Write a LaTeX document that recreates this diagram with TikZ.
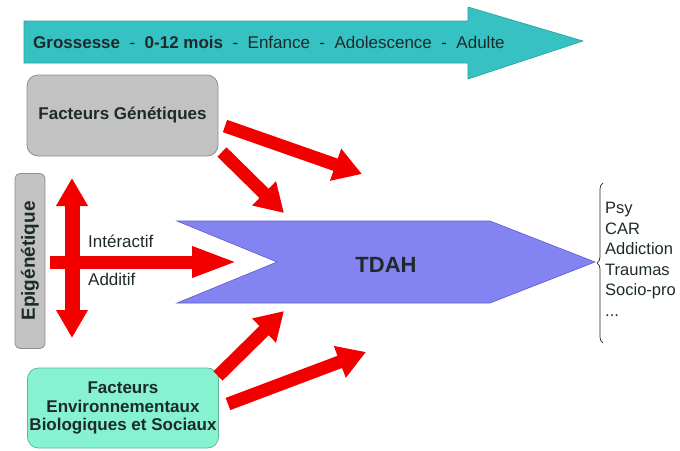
\documentclass[tikz,border=0pt]{standalone}
\usepackage{fontspec}
\setmainfont{Liberation Sans}
\usetikzlibrary{arrows.meta,decorations.pathreplacing}
\definecolor{tealA}{HTML}{36C2C2}
\definecolor{tealB}{HTML}{2A9E9E}
\definecolor{grayA}{HTML}{C2C2C2}
\definecolor{grayB}{HTML}{8E8E8E}
\definecolor{mintA}{HTML}{86F2CF}
\definecolor{mintB}{HTML}{5CB89A}
\definecolor{blueA}{HTML}{8383F2}
\definecolor{blueB}{HTML}{5C5CC8}
\definecolor{redA}{HTML}{F20000}
\definecolor{txt}{HTML}{1E2A2A}
\tikzset{
  boxstyle/.style={rounded corners=11pt, line width=0.8pt, inner sep=2pt, align=center, text=txt},
  genbox/.style={boxstyle, fill=grayA, draw=grayB, minimum width=191pt, minimum height=81pt, font=\bfseries\fontsize{17}{20}\selectfont},
  envbox/.style={boxstyle, fill=mintA, draw=mintB, minimum width=190pt, minimum height=80pt, font=\bfseries\fontsize{17}{18.5}\selectfont},
  epibox/.style={boxstyle, rounded corners=5pt, fill=grayA, draw=grayB, minimum width=175pt, minimum height=30pt, inner sep=0pt, font=\bfseries\fontsize{19}{20}\selectfont},
  fatarrow/.style={draw=redA, line width=13pt, -{Triangle[length=28pt,width=32pt]}},
  labeltxt/.style={font=\fontsize{17}{20}\selectfont, text=txt, inner sep=0pt}
}
\begin{document}
\begin{tikzpicture}[x=1pt,y=-1pt]
\useasboundingbox (0,0) rectangle (680,450);
% top timeline arrow
\draw[fill=tealA, draw=tealB, line width=0.6pt] (24,21) -- (468,21) -- (468,7) -- (583,41) -- (468,79) -- (468,63) -- (24,63) -- cycle;
\node[anchor=west, inner sep=0pt, text=txt, font=\fontsize{17}{20}\selectfont] (time) at (33,42)
  {\textbf{Grossesse}\ \ -\ \ \textbf{0-12 mois}\ \ -\ \ Enfance\ \ -\ \ Adolescence\ \ -\ \ Adulte};
% boxes
\node[genbox] (gen) at (122.5,115.5) {Facteurs Génétiques};
\node[epibox, rotate=90] (epi) at (30,261) {Epigénétique};
\node[envbox] (env) at (123,408) {Facteurs\\Environnementaux\\Biologiques et Sociaux};
% TDAH shape
\draw[fill=blueA, draw=blueB, line width=0.6pt] (177,221) -- (490,221) -- (595,262) -- (490,303) -- (177,303) -- (277,262) -- cycle;
\node[font=\bfseries\fontsize{22}{24}\selectfont, text=txt] (tdah) at (386,265) {TDAH};
% brace and list
\coordinate (bb) at (603,343);
\coordinate (bt) at (603,183);
\draw[decorate, decoration={brace, amplitude=6pt}, line width=0.7pt, draw=txt] (bb) -- (bt);
\node[anchor=north west, align=left, inner sep=0pt, text=txt, font=\fontsize{16.5}{20.5}\selectfont] (list) at (605,202)
  {Psy\\CAR\\Addiction\\Traumas\\Socio-pro\\...};
% red arrows
\coordinate (g1s) at (225,126); \coordinate (g1e) at (362,174);
\coordinate (g2s) at (222,152); \coordinate (g2e) at (284,213);
\coordinate (e1s) at (218,376); \coordinate (e1e) at (284,311);
\coordinate (e2s) at (228,404); \coordinate (e2e) at (366,352);
\draw[fatarrow] (g1s) -- (g1e);
\draw[fatarrow] (g2s) -- (g2e);
\draw[fatarrow] (e1s) -- (e1e);
\draw[fatarrow] (e2s) -- (e2e);
\coordinate (vt) at (72,178); \coordinate (vb) at (72,338);
\draw[draw=redA, line width=15pt, {Triangle[length=28pt,width=30pt]}-{Triangle[length=28pt,width=30pt]}] (vt) -- (vb);
\coordinate (hs) at (50,262); \coordinate (he) at (238,262);
\draw[draw=redA, line width=13pt, -{Triangle[length=46pt,width=28pt]}] (hs) -- (he);
\node[labeltxt, anchor=west] (inter) at (88,241) {Intéractif};
\node[labeltxt, anchor=west] (addi) at (88,279) {Additif};
\end{tikzpicture}
\end{document}
